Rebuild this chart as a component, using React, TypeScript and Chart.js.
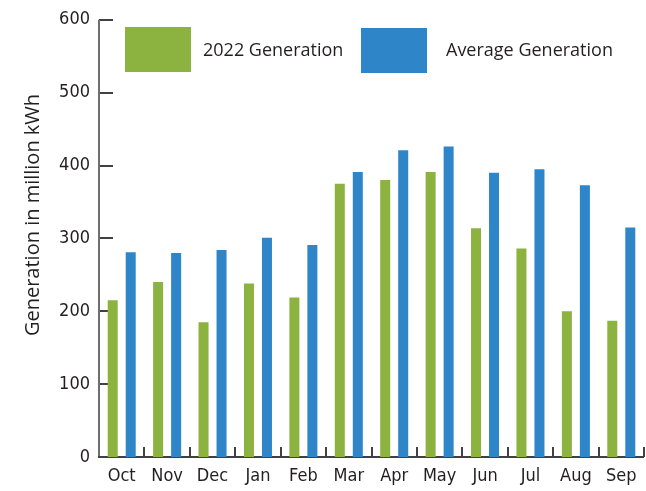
import React, { useEffect, useRef } from "react";
import { Chart, registerables } from "chart.js";

Chart.register(...registerables);

const months = ["Oct", "Nov", "Dec", "Jan", "Feb", "Mar", "Apr", "May", "Jun", "Jul", "Aug", "Sep"];
const gen2022 = [215, 240, 185, 238, 219, 375, 380, 391, 314, 286, 200, 187];
const avgGen = [281, 280, 284, 301, 291, 391, 421, 426, 390, 395, 373, 315];
const seriesLabels = ["2022 Generation", "Average Generation"];
const yTitle = "Generation in million kWh";

const GREEN = "#8cb23f";
const BLUE = "#2e86c9";
const TEXT = "#231f20";
const TICK_FONT = '"Liberation Sans Narrow", "DejaVu Sans Condensed", sans-serif';
const MAIN_FONT = '"Open Sans", "Noto Sans", sans-serif';

const decoPlugin = {
  id: "deco",
  beforeDatasetsDraw(chart: any) {
    const ctx = chart.ctx;
    const { left, right, top, bottom } = chart.chartArea;
    const xs = chart.scales.x;
    const ys = chart.scales.y;
    ctx.save();
    ctx.strokeStyle = "#414042";
    ctx.lineWidth = 2;
    ys.ticks.forEach((t: any, i: number) => {
      if (t.value === 0) return;
      const py = Math.round(ys.getPixelForTick(i));
      ctx.beginPath();
      ctx.moveTo(left, py);
      ctx.lineTo(left + 14, py);
      ctx.stroke();
    });
    for (let i = 0; i <= months.length; i++) {
      const px = Math.round(xs.getPixelForValue(i - 0.5));
      ctx.beginPath();
      ctx.moveTo(px, bottom);
      ctx.lineTo(px, bottom - 10);
      ctx.stroke();
    }
    ctx.strokeStyle = "#6d6e71";
    ctx.beginPath();
    ctx.moveTo(left, top);
    ctx.lineTo(left, bottom);
    ctx.stroke();
    ctx.strokeStyle = "#414042";
    ctx.beginPath();
    ctx.moveTo(left - 1, bottom);
    ctx.lineTo(right, bottom);
    ctx.stroke();
    ctx.restore();
  },
  afterDraw(chart: any) {
    const ctx = chart.ctx;
    ctx.save();
    const items = [
      { x: 125, y: 27, color: GREEN, label: seriesLabels[0], tx: 203 },
      { x: 361, y: 28, color: BLUE, label: seriesLabels[1], tx: 446 },
    ];
    ctx.font = `18px ${MAIN_FONT}`;
    ctx.textBaseline = "middle";
    ctx.textAlign = "left";
    items.forEach((it) => {
      ctx.fillStyle = it.color;
      ctx.fillRect(it.x, it.y, 66, 45);
      ctx.fillStyle = TEXT;
      ctx.fillText(it.label, it.tx, 51);
    });
    ctx.translate(33, 215);
    ctx.rotate(-Math.PI / 2);
    ctx.textAlign = "center";
    ctx.font = `20px ${MAIN_FONT}`;
    ctx.fillText(yTitle, 0, 0);
    ctx.restore();
  },
};

export default function App() {
  const ref = useRef<HTMLCanvasElement>(null);
  useEffect(() => {
    if (!ref.current) return;
    const chart = new Chart(ref.current, {
      type: "bar",
      data: {
        labels: months,
        datasets: [
          {
            label: seriesLabels[0],
            data: gen2022,
            backgroundColor: GREEN,
            borderWidth: 0,
            categoryPercentage: 0.793,
            barPercentage: 0.556,
          },
          {
            label: seriesLabels[1],
            data: avgGen,
            backgroundColor: BLUE,
            borderWidth: 0,
            categoryPercentage: 0.793,
            barPercentage: 0.556,
          },
        ],
      },
      options: {
        responsive: false,
        animation: false,
        layout: { padding: { top: 15, right: 2, left: 0, bottom: 0 } },
        plugins: {
          legend: { display: false },
          tooltip: { enabled: false },
        },
        scales: {
          x: {
            offset: true,
            grid: { display: false, drawTicks: false },
            border: { display: false },
            ticks: {
              color: TEXT,
              font: { family: TICK_FONT, size: 18 },
              padding: 9,
              maxRotation: 0,
            },
            afterFit: (s: any) => {
              s.height = 34;
            },
          },
          y: {
            min: 0,
            max: 600,
            grid: { display: false, drawTicks: false },
            border: { display: false },
            ticks: {
              stepSize: 100,
              color: TEXT,
              font: { family: TICK_FONT, size: 18 },
              padding: 9,
            },
            afterFit: (s: any) => {
              s.width = 99;
            },
          },
        },
      },
      plugins: [decoPlugin],
    });
    return () => chart.destroy();
  }, []);
  return (
    <div style={{ position: "absolute", left: 0, top: 0, width: 646, height: 491 }}>
      <canvas ref={ref} width={646} height={491} />
    </div>
  );
}
